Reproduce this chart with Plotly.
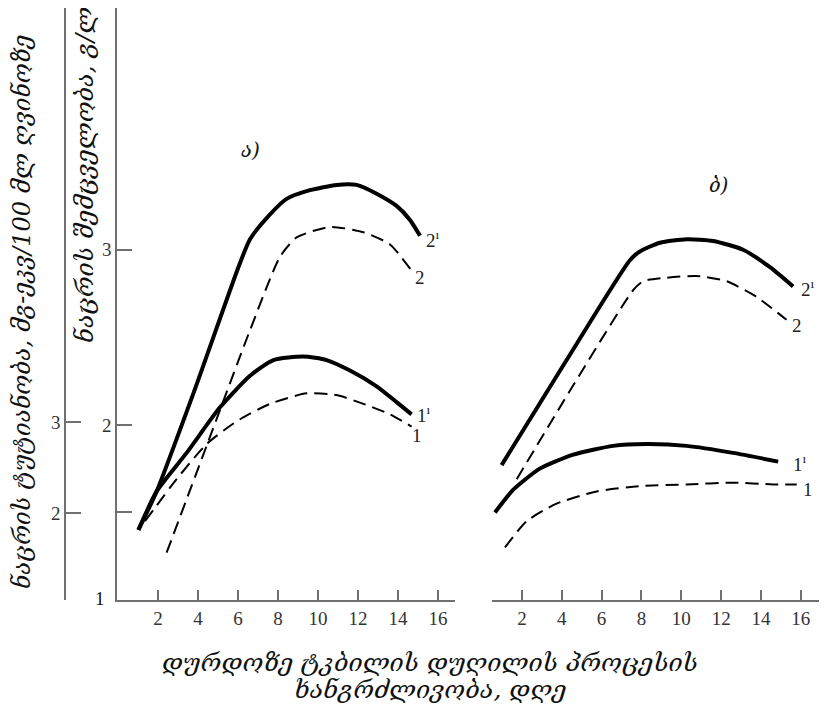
import plotly.graph_objects as go

# page body has an 8px default margin; figure is sized to fill the rest of the 827x704 window
OFF = 8
W, H = 827 - OFF, 704 - OFF

# ---- data (panel ა) ----
a_2p_x = [1.02, 1.93, 3.77, 6.02, 6.6, 7.43, 8.43, 9.6, 10.93, 11.93, 12.93, 13.93, 14.6, 15.1]
a_2p_y = [1.40, 1.62, 2.18, 2.90, 3.06, 3.18, 3.29, 3.34, 3.37, 3.37, 3.32, 3.25, 3.17, 3.08]
a_2_x = [2.43, 4.43, 6.6, 8.1, 8.93, 10.6, 12.27, 13.6, 14.68]
a_2_y = [1.27, 1.88, 2.54, 2.96, 3.07, 3.13, 3.10, 3.03, 2.88]
a_1p_x = [1.02, 1.93, 3.43, 5.1, 6.6, 7.77, 9.27, 10.43, 11.6, 12.93, 13.93, 14.68]
a_1p_y = [1.40, 1.62, 1.84, 2.10, 2.28, 2.37, 2.39, 2.37, 2.31, 2.22, 2.13, 2.06]
a_1_x = [1.35, 2.93, 4.43, 5.93, 7.6, 9.43, 10.93, 12.27, 13.6, 14.68]
a_1_y = [1.45, 1.69, 1.89, 2.02, 2.12, 2.18, 2.17, 2.12, 2.06, 1.99]

# ---- data (panel ბ) ----
b_2p_x = [0.98, 4.19, 7.42, 7.92, 8.93, 10.27, 11.6, 13.1, 14.45, 15.61]
b_2p_y = [1.77, 2.36, 2.94, 2.99, 3.04, 3.06, 3.05, 3.00, 2.90, 2.79]
b_2_x = [1.74, 4.6, 7.59, 8.09, 9.26, 10.77, 12.27, 13.78, 15.28]
b_2_y = [1.69, 2.23, 2.77, 2.82, 2.84, 2.85, 2.82, 2.73, 2.60]
b_1p_x = [0.65, 1.57, 2.9, 4.58, 6.58, 8.26, 10.27, 12.6, 14.86]
b_1p_y = [1.50, 1.63, 1.75, 1.83, 1.88, 1.89, 1.88, 1.84, 1.79]
b_1_x = [1.15, 2.24, 3.74, 5.75, 7.92, 10.27, 12.6, 14.61, 15.79]
b_1_y = [1.30, 1.45, 1.55, 1.62, 1.65, 1.66, 1.67, 1.66, 1.66]

x_ticks = [2, 4, 6, 8, 10, 12, 14, 16]
inner_ticks = [1.5, 2, 3]
inner_labels = ["", "2", "3"]
outer_ticks = [2, 3]
outer_labels = ["2", "3"]

GEO = "DejaVu Serif, DejaVu Sans, serif"
NUM = "Liberation Serif, Times New Roman, serif"


def fx(px):
    return (px - OFF) / W


def fy(py):
    return 1 - (py - OFF) / H


fig = go.Figure()

thick = dict(color="black", width=4)
dashed = dict(color="black", width=2, dash="13px,7px")


def add(x, y, line, xa):
    fig.add_trace(go.Scatter(x=x, y=y, mode="lines", line=dict(shape="spline", smoothing=0.6, **line),
                             xaxis=xa, yaxis="y", showlegend=False, hoverinfo="skip"))


add(a_2p_x, a_2p_y, thick, "x")
add(a_2_x, a_2_y, dashed, "x")
add(a_1p_x, a_1p_y, thick, "x")
add(a_1_x, a_1_y, dashed, "x")
add(b_2p_x, b_2p_y, thick, "x2")
add(b_2_x, b_2_y, dashed, "x2")
add(b_1p_x, b_1p_y, thick, "x2")
add(b_1_x, b_1_y, dashed, "x2")

# invisible trace to keep outer axis drawn
fig.add_trace(go.Scatter(x=[None], y=[None], xaxis="x", yaxis="y2", showlegend=False, hoverinfo="skip"))

axis_line = dict(showline=True, linecolor="#707070", linewidth=1.5, showgrid=False, zeroline=False,
                 ticks="inside", tickcolor="#707070", tickwidth=1.5, automargin=False,
                 tickfont=dict(family=NUM, size=19, color="#333"))

ydom = [fy(600), min(1.0, fy(8))]

fig.update_layout(
    width=W, height=H,
    margin=dict(l=0, r=0, t=0, b=0, autoexpand=False),
    paper_bgcolor="white", plot_bgcolor="white",
    xaxis=dict(domain=[fx(117), fx(455)], range=[-0.05, 16.85], anchor="y",
               tickvals=x_ticks, ticklen=10, **axis_line),
    xaxis2=dict(domain=[fx(492), fx(820)], range=[0.5, 16.96], anchor="y",
                tickvals=x_ticks, ticklen=10, **axis_line),
    yaxis=dict(domain=ydom, range=[1, 4.38], anchor="x",
               tickvals=inner_ticks, ticktext=inner_labels, ticklen=15, **axis_line),
    yaxis2=dict(overlaying="y", anchor="free", position=fx(65), side="left",
                range=[1.044, 7.55], tickvals=outer_ticks, ticktext=outer_labels,
                ticklen=15, **axis_line),
)

ann = []


def lab(text, x, y, xref, size=19, family=NUM, **kw):
    ann.append(dict(text=text, x=x, y=y, xref=xref, yref="y", showarrow=False,
                    font=dict(family=family, size=size, color="#222"),
                    xanchor="center", yanchor="middle", **kw))


sup = "<sup>ı</sup>"
lab("2" + sup, 15.75, 3.06, "x")
lab("2", 15.1, 2.84, "x")
lab("1" + sup, 15.3, 2.06, "x")
lab("1", 14.95, 1.94, "x")
lab("2" + sup, 16.35, 2.78, "x2")
lab("2", 15.8, 2.57, "x2")
lab("1" + sup, 15.95, 1.78, "x2")
lab("1", 16.35, 1.63, "x2")


def pann(text, px, py, size=22, angle=0, family=GEO, italic=True):
    ann.append(dict(text=text, x=fx(px), y=fy(py), xref="paper", yref="paper",
                    showarrow=False, textangle=angle,
                    font=dict(family=family, size=size, color="#111",
                              style="italic" if italic else "normal"),
                    xanchor="center", yanchor="middle"))


pann("1", 100, 598, size=19, family=NUM, italic=False)
pann("ა)", 250, 150, size=20)
pann("ბ)", 718, 185, size=20)
pann("ნაცრის ტუტიანობა, მგ-ეკვ/100 მლ ღვინოზე", 22, 312, size=24, angle=-90)
pann("ნაცრის შემცველობა, გ/ლ", 85, 175, size=25, angle=-90)
pann("დურდოზე ტკბილის დუღილის პროცესის", 430, 662, size=25)
pann("ხანგრძლივობა, დღე", 430, 689, size=25)

fig.update_layout(annotations=ann)
fig.write_html("out.html")
